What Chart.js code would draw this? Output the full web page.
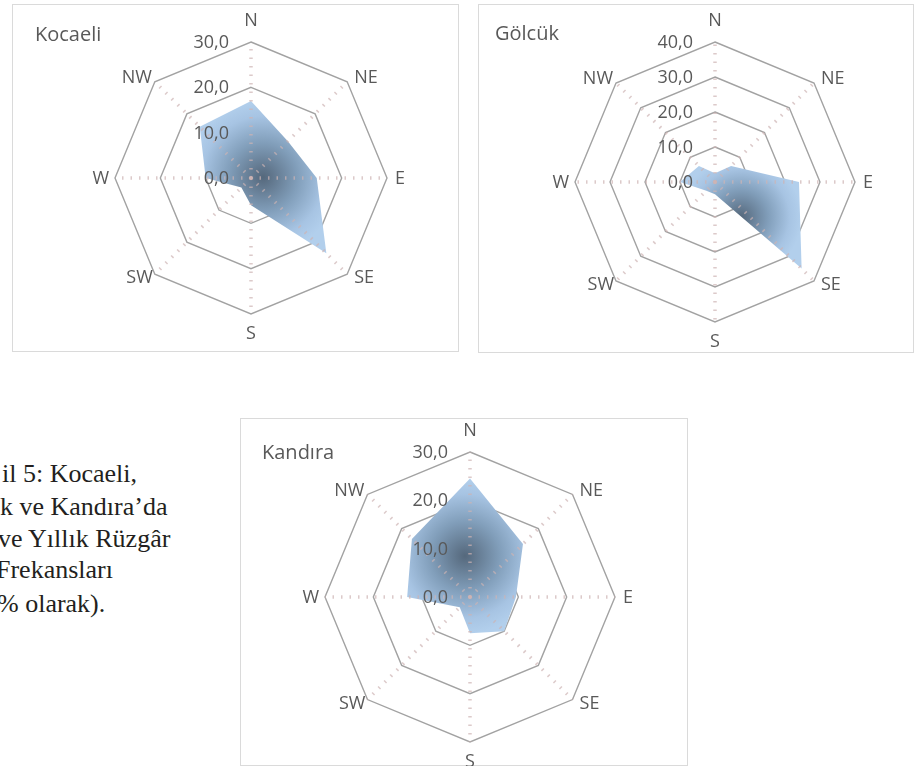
<!DOCTYPE html>
<html>
<head>
<meta charset="utf-8">
<script src="https://cdn.jsdelivr.net/npm/chart.js@4.4.0/dist/chart.umd.min.js"></script>
<style>
html,body{margin:0;padding:0;background:#fff;}
body{width:914px;height:770px;overflow:hidden;position:relative;}
.box{position:absolute;border:1px solid #dadada;box-sizing:border-box;background:#fff;}
canvas.rc{position:absolute;}
.cap{position:absolute;font-family:"Liberation Serif","Times New Roman",serif;font-size:26px;line-height:26px;color:#231f20;white-space:nowrap;}
</style>
</head>
<body>
<div class="box" style="left:12px;top:4px;width:447px;height:348px"></div>
<div class="box" style="left:478px;top:4px;width:436px;height:349px"></div>
<div class="box" style="left:240px;top:418px;width:448px;height:348px"></div>

<canvas class="rc" id="c1" width="447" height="348" style="left:12px;top:4px"></canvas>
<canvas class="rc" id="c2" width="435" height="349" style="left:478px;top:4px"></canvas>
<canvas class="rc" id="c3" width="448" height="348" style="left:240px;top:418px"></canvas>

<div class="cap" style="left:2px;top:461px">il 5: Kocaeli,</div>
<div class="cap" style="left:0px;top:494px">k ve Kandıra’da</div>
<div class="cap" style="left:-2px;top:526px">ve Yıllık Rüzgâr</div>
<div class="cap" style="left:-4px;top:557px">Frekansları</div>
<div class="cap" style="left:-3px;top:591px">% olarak).</div>

<script>
// ---- data ----
const directions = ['N', 'NE', 'E', 'SE', 'S', 'SW', 'W', 'NW'];

const kocaeliValues = [17, 11.5, 14.5, 23.5, 6, 3, 10, 16];
const golcukValues  = [2.5, 6.5, 24, 35, 3.5, 3.5, 10, 6.5];
const kandiraValues = [24.5, 15.5, 9.5, 10, 7.5, 3, 13, 17];

const kocaeliTickLabels = ['0,0', '10,0', '20,0', '30,0'];
const golcukTickLabels  = ['0,0', '10,0', '20,0', '30,0', '40,0'];
const kandiraTickLabels = ['0,0', '10,0', '20,0', '30,0'];

// ---- styling helpers ----
const TEXT = '#595959';
const labelPlace = [
  {d: 22, dx: 0,  dy: 0,  align: 'center'}, // N
  {d: 0,  dx: 7,  dy: -5, align: 'left'},   // NE
  {d: 8,  dx: 0,  dy: 0,  align: 'left'},   // E
  {d: 0,  dx: 7,  dy: 3,  align: 'left'},   // SE
  {d: 19, dx: 0,  dy: 0,  align: 'center'}, // S
  {d: 0,  dx: -2, dy: 3,  align: 'right'},  // SW
  {d: 6,  dx: 0,  dy: 0,  align: 'right'},  // W
  {d: 0,  dx: -3, dy: -5, align: 'right'}   // NW
];

function pathGradient(context) {
  const chart = context.chart;
  const r = chart.scales && chart.scales.r;
  const data = chart.data.datasets[context.datasetIndex].data;
  if (!r || r.xCenter === undefined) return '#9fbddc';
  let minX = Infinity, maxX = -Infinity, minY = Infinity, maxY = -Infinity;
  data.forEach((v, i) => {
    const p = r.getPointPositionForValue(i, v);
    minX = Math.min(minX, p.x); maxX = Math.max(maxX, p.x);
    minY = Math.min(minY, p.y); maxY = Math.max(maxY, p.y);
  });
  const cx = (minX + maxX) / 2, cy = (minY + maxY) / 2;
  const R = Math.max(maxX - minX, maxY - minY) / 2;
  const g = chart.ctx.createRadialGradient(cx, cy, 0, cx, cy, R);
  g.addColorStop(0, '#55687c');
  g.addColorStop(0.45, '#819eba');
  g.addColorStop(0.8, '#a7c4e3');
  g.addColorStop(1, '#b2cfec');
  return g;
}

const radarDecor = {
  id: 'radarDecor',
  afterDatasetsDraw(chart, args, opts) {
    const r = chart.scales.r;
    const ctx = chart.ctx;
    ctx.save();
    // dotted spokes
    const outer = r.getDistanceFromCenterForValue(r.max);
    ctx.strokeStyle = 'rgba(205,180,180,0.7)';
    ctx.lineWidth = 3.5;
    ctx.setLineDash([1.5, 7]);
    for (let i = 0; i < r._pointLabels.length; i++) {
      const p = r.getPointPosition(i, outer);
      ctx.beginPath();
      ctx.moveTo(r.xCenter, r.yCenter);
      ctx.lineTo(p.x, p.y);
      ctx.stroke();
    }
    ctx.setLineDash([]);
    // tick labels
    ctx.fillStyle = TEXT;
    ctx.font = '18px "Open Sans"';
    ctx.textAlign = 'right';
    ctx.textBaseline = 'middle';
    r.ticks.forEach(t => {
      const d = r.getDistanceFromCenterForValue(t.value);
      ctx.fillText(t.label, r.xCenter - 22, r.yCenter - d + 1);
    });
    // point labels
    r._pointLabels.forEach((lab, i) => {
      const pl = labelPlace[i];
      const p = r.getPointPosition(i, outer + pl.d);
      ctx.textAlign = pl.align;
      ctx.fillText(lab, p.x + pl.dx, p.y + pl.dy + 1);
    });
    // title
    ctx.font = '20px "Open Sans"';
    ctx.textAlign = 'left';
    ctx.textBaseline = 'alphabetic';
    ctx.fillText(opts.title, opts.titleX, opts.titleY);
    ctx.restore();
  }
};

function makeRadar(id, values, tickLabels, maxV, pad, title, tx, ty) {
  new Chart(document.getElementById(id), {
    type: 'radar',
    data: {
      labels: directions,
      datasets: [{
        data: values,
        fill: true,
        backgroundColor: pathGradient,
        borderWidth: 0,
        pointRadius: 0,
        pointHoverRadius: 0
      }]
    },
    options: {
      responsive: false,
      animation: false,
      events: [],
      layout: {padding: pad},
      plugins: {
        legend: {display: false},
        tooltip: {enabled: false},
        radarDecor: {title: title, titleX: tx, titleY: ty}
      },
      scales: {
        r: {
          min: 0,
          max: maxV,
          beginAtZero: true,
          ticks: {
            display: false,
            stepSize: 10,
            callback: (v, i) => tickLabels[i]
          },
          grid: {color: '#a2a2a2', lineWidth: 1.4},
          angleLines: {display: false},
          pointLabels: {display: false}
        }
      }
    },
    plugins: [radarDecor]
  });
}

makeRadar('c1', kocaeliValues, kocaeliTickLabels, 30,
  {left: 103, right: 72, top: 38, bottom: 38}, 'Kocaeli', 23, 37);
makeRadar('c2', golcukValues, golcukTickLabels, 40,
  {left: 97, right: 58, top: 38, bottom: 31}, 'Gölcük', 17, 36);
makeRadar('c3', kandiraValues, kandiraTickLabels, 30,
  {left: 85, right: 73, top: 34, bottom: 24}, 'Kandıra', 22, 41);
</script>
</body>
</html>
